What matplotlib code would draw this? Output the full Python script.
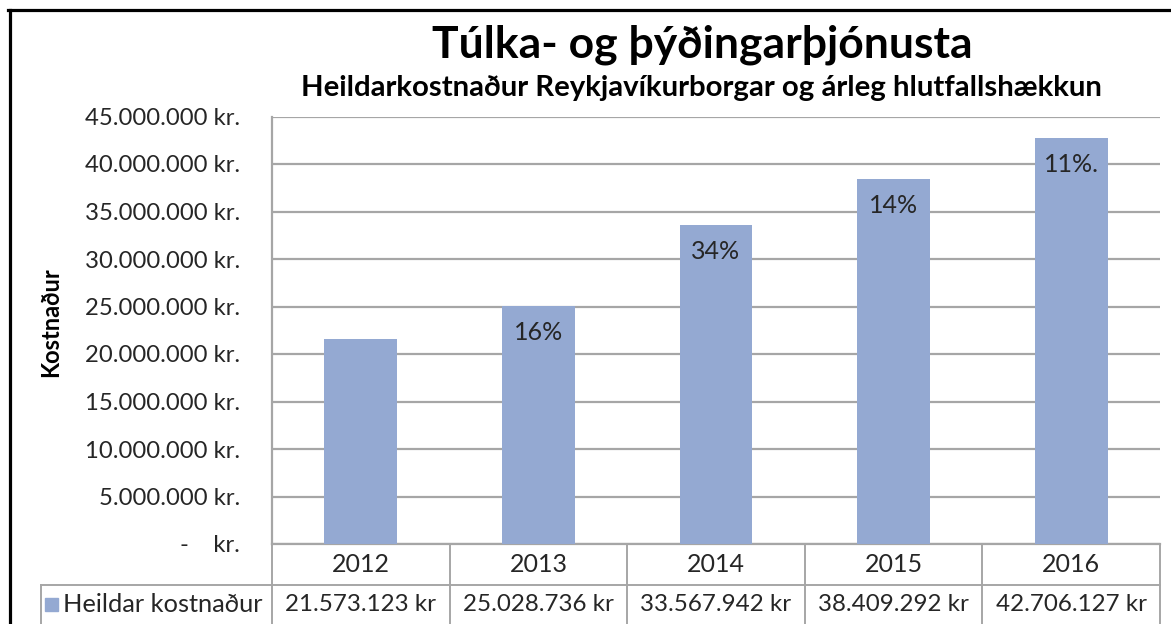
import matplotlib
matplotlib.use("Agg")
import matplotlib.pyplot as plt
from matplotlib.lines import Line2D
from matplotlib.patches import Rectangle
import matplotlib.transforms as mtransforms

# ---------------- data ----------------
years = ["2012", "2013", "2014", "2015", "2016"]
costs = [21573123, 25028736, 33567942, 38409292, 42706127]
cost_labels = ["21.573.123 kr", "25.028.736 kr", "33.567.942 kr", "38.409.292 kr", "42.706.127 kr"]
growth_labels = ["", "16%", "34%", "14%", "11%."]
y_ticks = [0, 5000000, 10000000, 15000000, 20000000, 25000000, 30000000, 35000000, 40000000, 45000000]
y_tick_labels = ["-    kr.", "5.000.000 kr.", "10.000.000 kr.", "15.000.000 kr.", "20.000.000 kr.",
                 "25.000.000 kr.", "30.000.000 kr.", "35.000.000 kr.", "40.000.000 kr.", "45.000.000 kr."]
series_name = "Heildar kostnaður"
title = "Túlka- og þýðingarþjónusta"
subtitle = "Heildarkostnaður Reykjavíkurborgar og árleg hlutfallshækkun"
y_label = "Kostnaður"

# ---------------- style ----------------
FONT = "Lato"
BAR_COLOR = "#94A9D2"
GRID_COLOR = "#A6A6A6"
TEXT_COLOR = "#262626"
W, H = 1171, 624
DPI = 100

fig = plt.figure(figsize=(W / DPI, H / DPI), dpi=DPI)
fig.patch.set_facecolor("white")

# plot area in pixels
left_px, right_px, top_px, bottom_px = 272, 1160, 116.5, 544
ax = fig.add_axes([left_px / W, 1 - bottom_px / H, (right_px - left_px) / W, (bottom_px - top_px) / H])

x = list(range(len(years)))
ax.bar(x, costs, width=0.41, color=BAR_COLOR, zorder=3)
ax.set_xlim(-0.5, len(years) - 0.5)
ax.set_ylim(0, 45000000)
ax.set_yticks(y_ticks)
ax.set_yticklabels(y_tick_labels, fontfamily=FONT, fontsize=17.2, color=TEXT_COLOR)
ax.tick_params(axis="y", length=0, pad=23)
ax.tick_params(axis="x", length=0, labelbottom=False)
ax.grid(axis="y", color=GRID_COLOR, linewidth=1.6, zorder=0)
for s in ["top", "right"]:
    ax.spines[s].set_visible(False)
for s in ["left", "bottom"]:
    ax.spines[s].set_color(GRID_COLOR)
    ax.spines[s].set_linewidth(1.6)

ax.set_ylabel(y_label, fontfamily=FONT, fontweight="bold", fontsize=17, color="black")
ax.yaxis.set_label_coords(-(left_px - 62) / (right_px - left_px), 0.52)

# growth labels inside bars
for xi, v, lab in zip(x, costs, growth_labels):
    if lab:
        ax.annotate(lab, (xi, v), xytext=(0, -19), textcoords="offset points",
                    ha="center", va="center", fontfamily=FONT, fontsize=18, color=TEXT_COLOR, zorder=4)

# ---------------- data table ----------------
px_per_cat = (right_px - left_px) / len(years)
plot_h = bottom_px - top_px
row1 = -(585 - bottom_px) / plot_h
row2 = -(640 - bottom_px) / plot_h
row_mid = -((585 + 624) / 2 - bottom_px) / plot_h
table_left = -0.5 - (left_px - 41) / px_per_cat
trans = mtransforms.blended_transform_factory(ax.transData, ax.transAxes)
lw = 1.4
for b in [i - 0.5 for i in range(len(years) + 1)]:
    ax.add_line(Line2D([b, b], [0, row2], transform=trans, color=GRID_COLOR, lw=lw, clip_on=False))
ax.add_line(Line2D([table_left, len(years) - 0.5], [row1, row1], transform=trans, color=GRID_COLOR, lw=lw, clip_on=False))
ax.add_line(Line2D([table_left, table_left], [row1, row2], transform=trans, color=GRID_COLOR, lw=lw, clip_on=False))

for xi, yr, cl in zip(x, years, cost_labels):
    ax.text(xi, row1 / 2, yr, transform=trans, ha="center", va="center",
            fontfamily=FONT, fontsize=18, color=TEXT_COLOR, clip_on=False)
    ax.text(xi, row_mid, cl, transform=trans, ha="center", va="center",
            fontfamily=FONT, fontsize=17.4, color=TEXT_COLOR, clip_on=False)

sw_x = table_left + 4 / px_per_cat
ax.add_patch(Rectangle((sw_x, row_mid - 6.5 / plot_h), 13 / px_per_cat, 13 / plot_h, transform=trans,
                       color=BAR_COLOR, clip_on=False))
ax.text(table_left + 22 / px_per_cat, row_mid, series_name, transform=trans, ha="left", va="center",
        fontfamily=FONT, fontsize=18.3, color=TEXT_COLOR, clip_on=False)

# ---------------- titles ----------------
fig.text(702 / W, 1 - 45 / H, title, ha="center", va="center", fontfamily=FONT, fontweight="bold",
         fontsize=32, color="black")
fig.text(701 / W, 1 - 88 / H, subtitle, ha="center", va="center", fontfamily=FONT, fontweight="bold",
         fontsize=21.2, color="black")

# ---------------- outer border ----------------
fig.add_artist(Line2D([9.5 / W, 9.5 / W], [0, 1 - 9.5 / H], transform=fig.transFigure, color="black", lw=2.3))
fig.add_artist(Line2D([8 / W, 1], [1 - 9.5 / H, 1 - 9.5 / H], transform=fig.transFigure, color="black", lw=2.3))

fig.savefig("out.png", dpi=DPI, facecolor="white")
